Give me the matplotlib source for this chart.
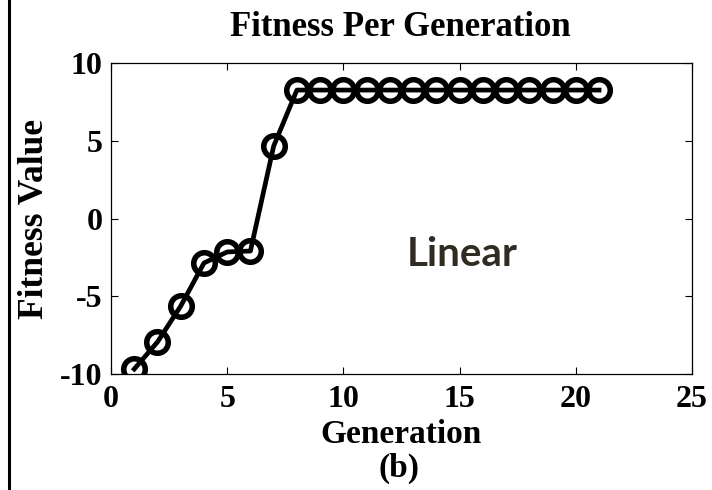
import matplotlib
matplotlib.use("Agg")
import matplotlib.pyplot as plt
from matplotlib.lines import Line2D

# Fitness of the best individual per generation
generations = list(range(1, 22))
fitness = [-9.68, -7.94, -5.63, -2.86, -2.15, -2.09, 4.66] + [8.26] * 14

x_ticks = [0, 5, 10, 15, 20, 25]
y_ticks = [-10, -5, 0, 5, 10]
x_tick_labels = ["0", "5", "10", "15", "20", "25"]
y_tick_labels = ["-10", "-5", "0", "5", "10"]

serif = "Liberation Serif"

fig = plt.figure(figsize=(7.12, 4.90), dpi=100)
ax = fig.add_axes([0.1559, 0.2367, 0.816, 0.6347])

ax.plot(generations, fitness, color="black", linewidth=3.4,
        marker="o", markersize=15.5, markerfacecolor="none",
        markeredgecolor="black", markeredgewidth=4.0)

ax.set_xlim(0, 25)
ax.set_ylim(-10, 10)
ax.set_xticks(x_ticks)
ax.set_yticks(y_ticks)
ax.set_xticklabels(x_tick_labels)
ax.set_yticklabels(y_tick_labels)
ax.tick_params(direction="in", top=True, right=True, length=5, width=0.8,
               labelsize=23)
ax.tick_params(axis="x", pad=8)
ax.tick_params(axis="y", pad=6)
for lbl in ax.get_xticklabels() + ax.get_yticklabels():
    lbl.set_fontfamily(serif)
    lbl.set_fontweight("bold")
for s in ax.spines.values():
    s.set_linewidth(0.9)

fig.text(0.5618, 0.944, "Fitness Per Generation", fontsize=25,
         fontweight="bold", family=serif, ha="center", va="center")

ax.set_xlabel("Generation", fontsize=24, fontweight="bold", family=serif)
ax.xaxis.label.set_va("center")
ax.xaxis.set_label_coords(0.5, -0.196)
ax.set_ylabel("Fitness Value", fontsize=25.5, fontweight="bold", family=serif)
ax.yaxis.label.set_va("center")
ax.yaxis.set_label_coords(-0.131, 0.5)

ax.text(15.1, -2.3, "Linear", fontsize=29, fontweight="bold", family="Lato",
        color="#302c22", ha="center", va="center")

fig.text(0.5604, 0.045, "(b)", fontsize=24, fontweight="bold", family=serif,
         ha="center", va="center")

# page rule on the left edge
fig.add_artist(Line2D([0.0126, 0.0126], [0, 1], color="black", linewidth=2.2,
                      transform=fig.transFigure))

fig.savefig("out.png", dpi=100, facecolor="white")
